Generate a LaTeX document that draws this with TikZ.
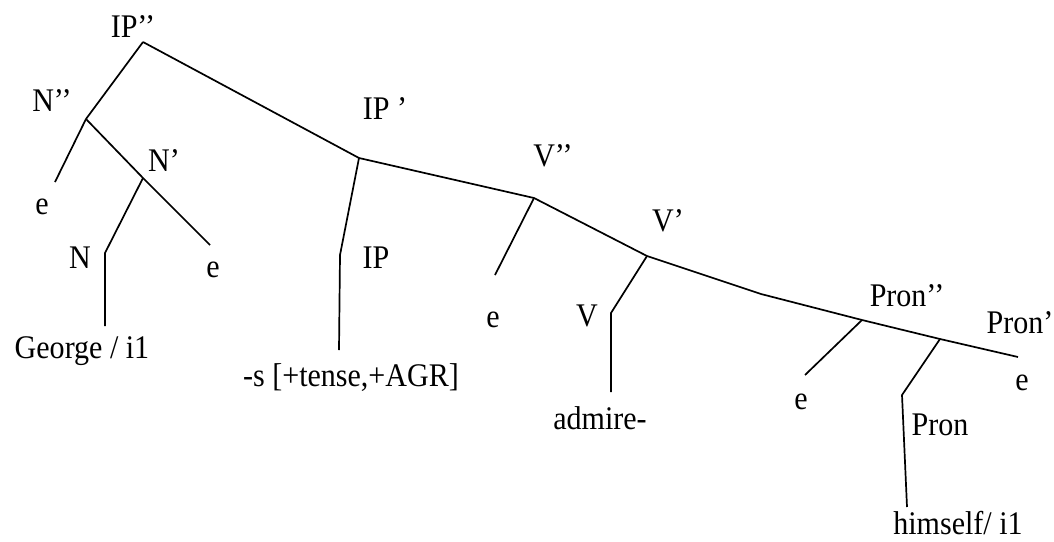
\documentclass[tikz,border=0pt]{standalone}
\usepackage{fontspec}
\setmainfont{Liberation Serif}[FakeStretch=0.91]

\begin{document}
\begin{tikzpicture}[    x=0.5pt, y=-0.5pt,
    font=\fontsize{16.5}{20}\selectfont,
    lab/.style={inner sep=0pt, anchor=center},
    edge/.style={draw, black, line width=0.85pt, line join=round}]
\useasboundingbox (0,0) rectangle (1054,541);

\coordinate (ipdd) at (143,42);
\coordinate (ndd) at (86,119);
\coordinate (nd) at (143,178);
\coordinate (nbend) at (105,253);
\coordinate (nend) at (105,326);
\coordinate (e1) at (55,182);
\coordinate (e2) at (210,245);
\coordinate (ipd) at (359,158);
\coordinate (ipbend) at (340,255);
\coordinate (ipend) at (339,350);
\coordinate (vdd) at (534,198);
\coordinate (e3) at (495,275);
\coordinate (vd) at (647,256);
\coordinate (vbend) at (611,313);
\coordinate (vend) at (611,392);
\coordinate (kink) at (761,294);
\coordinate (prdd) at (862,320);
\coordinate (e4) at (805,375);
\coordinate (prd) at (940,339);
\coordinate (e5) at (1018,357);
\coordinate (prbend) at (902,395);
\coordinate (prend) at (907,507);

\node [lab] (lipdd) at (133,27) {IP’{}’};
\node [lab] (lndd) at (52,101) {N’{}’};
\node [lab] (le1) at (42,207) {e};
\node [lab] (lnd) at (164,161) {N’};
\node [lab] (ln) at (80,258) {N};
\node [lab] (le2) at (213,270) {e};
\node [lab] (george) at (82,351) {George / i1};
\node [lab] (lipd) at (385,109) {IP ’};
\node [lab] (lip) at (376,258) {IP};
\node [lab] (infl) at (351,378) {-s [+tense,+AGR]};
\node [lab] (lvdd) at (553,156) {V’{}’};
\node [lab] (le3) at (493,320) {e};
\node [lab] (lvd) at (668,221) {V’};
\node [lab] (lv) at (587,316) {V};
\node [lab] (admire) at (600,418) {admire-};
\node [lab] (lprdd) at (907,296) {Pron’{}’};
\node [lab] (lprd) at (1020,323) {Pron’};
\node [lab] (le5) at (1022,383) {e};
\node [lab] (le4) at (801,402) {e};
\node [lab] (lpr) at (940,425) {Pron};
\node [lab] (himself) at (958,523) {himself/ i1};

\draw [edge] (ipdd) -- (ndd) -- (e1);
\draw [edge] (ndd) -- (nd) -- (e2);
\draw [edge] (nd) -- (nbend) -- (nend);
\draw [edge] (ipdd) -- (ipd) -- (vdd) -- (vd) -- (kink) -- (prdd) -- (prd) -- (e5);
\draw [edge] (ipd) -- (ipbend) -- (ipend);
\draw [edge] (vdd) -- (e3);
\draw [edge] (vd) -- (vbend) -- (vend);
\draw [edge] (prdd) -- (e4);
\draw [edge] (prd) -- (prbend) -- (prend);

\end{tikzpicture}
\end{document}
